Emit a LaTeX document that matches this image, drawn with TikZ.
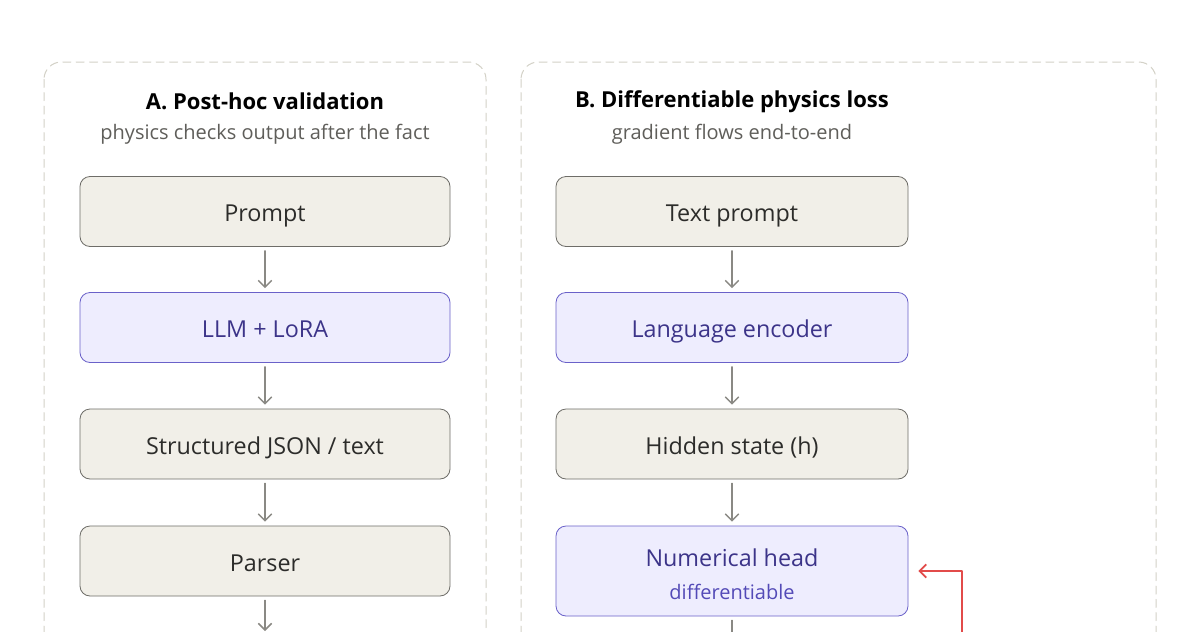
\documentclass[tikz,border=0pt]{standalone}
\usepackage{fontspec}
\setmainfont{Open Sans}
\usetikzlibrary{arrows.meta}

\definecolor{panelgray}{HTML}{D3D1C7}
\definecolor{beigefill}{HTML}{F1EFE8}
\definecolor{beigeline}{HTML}{6E6D68}
\definecolor{lilacfill}{HTML}{EEEDFE}
\definecolor{lilacline}{HTML}{6A61C9}
\definecolor{lilactext}{HTML}{3C3489}
\definecolor{lilacsub}{HTML}{534AB7}
\definecolor{inktext}{HTML}{2C2C2A}
\definecolor{subtext}{HTML}{5F5E5A}
\definecolor{flowgray}{HTML}{8A8984}
\definecolor{gradred}{HTML}{E24B4A}

\begin{document}
\begin{tikzpicture}[x=0.75pt,y=-0.75pt,line cap=round,line join=round,
	panel/.style={draw=panelgray,line width=0.75pt,dash pattern=on 6pt off 4pt,rounded corners=13pt},
	heading/.style={text=black,font=\bfseries\fontsize{16.5}{19}\selectfont},
	subheading/.style={text=subtext,font=\fontsize{15}{18}\selectfont},
	plainbox/.style={draw=beigeline,fill=beigefill,line width=0.6pt,rounded corners=7.5pt,text=inktext,font=\fontsize{17.5}{21}\selectfont,minimum height=52.5pt,text height=16pt,text depth=1pt},
	modelbox/.style={draw=lilacline,fill=lilacfill,line width=0.6pt,rounded corners=7.5pt,text=lilactext,font=\fontsize{17.5}{21}\selectfont,minimum height=52.5pt,text height=16pt,text depth=1pt},
	colA/.style={minimum width=277.5pt},
	colB/.style={minimum width=264pt},
	flow/.style={draw=flowgray,line width=1.1pt,-{Straight Barb[length=5pt,width=10pt,line width=1.1pt]},shorten <=3pt,shorten >=3pt},
	gradflow/.style={draw=gradred,line width=1.3pt,-{Straight Barb[length=5pt,width=10pt,line width=1.3pt]}}]
	\useasboundingbox (0,0) rectangle (1200,632);
	\clip (0,0) rectangle (1200,632);
	\fill[white] (0,0) rectangle (1200,632);
	% panels
	\draw[panel] (44,62) rectangle (486,760);
	\draw[panel] (521,62) rectangle (1156,760);
	% A. post-hoc
	\node[heading] (titleA) at (265,101) {A. Post-hoc validation};
	\node[subheading] (subA) at (265,134) {physics checks output after the fact};
	\node[plainbox,colA] (prompt) at (265,211.5) {Prompt};
	\node[modelbox,colA] (llm) at (265,327.5) {LLM + LoRA};
	\node[plainbox,colA] (json) at (265,444) {Structured JSON / text};
	\node[plainbox,colA] (parser) at (265,561) {Parser};
	\coordinate (belowA) at (265,635);
	\draw[flow] (prompt) -- (llm);
	\draw[flow] (llm) -- (json);
	\draw[flow] (json) -- (parser);
	\draw[flow] (parser) -- (belowA);
	% B. differentiable
	\node[heading] (titleB) at (732,102) {B. Differentiable physics loss};
	\node[subheading] (subB) at (732,134) {gradient flows end-to-end};
	\node[plainbox,colB] (txt) at (732,211.5) {Text prompt};
	\node[modelbox,colB] (enc) at (732,327.5) {Language encoder};
	\node[plainbox,colB] (hid) at (732,444) {Hidden state (h)};
	\node[modelbox,colB,minimum height=67.5pt,align=center,text height=,text depth=] (head) at (732,571)
		{\rule{0pt}{18pt}Numerical head\\[4pt]{\color{lilacsub}\fontsize{15}{18}\selectfont differentiable}};
	\coordinate (belowB) at (732,680);
	\coordinate (lossfoot) at (962,680);
	\draw[flow] (txt) -- (enc);
	\draw[flow] (enc) -- (hid);
	\draw[flow] (hid) -- (head);
	\draw[flow] (head) -- (belowB);
	\draw[gradflow] (lossfoot) |- ([xshift=7.5pt]head.east);
\end{tikzpicture}
\end{document}
